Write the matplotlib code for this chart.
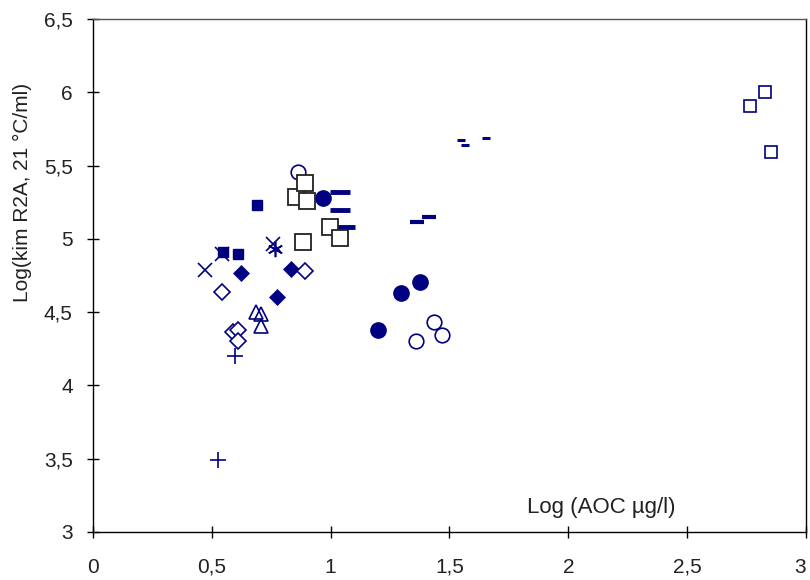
import matplotlib
matplotlib.use('Agg')
import matplotlib.pyplot as plt

NAVY = '#000080'

# Data (x = log AOC, y = log colony count)
big_sq_x = [0.854, 0.892, 0.900, 0.883, 0.997, 1.039]
big_sq_y = [5.283, 5.379, 5.256, 4.975, 5.078, 5.003]

small_sq_x = [2.827, 2.765, 2.851]
small_sq_y = [6.003, 5.907, 5.593]

fill_sq_x = [0.691, 0.548, 0.609]
fill_sq_y = [5.233, 4.909, 4.898]

cross_x = [0.471, 0.541, 0.756]
cross_y = [4.786, 4.898, 4.962]

star_x = [0.766]
star_y = [4.928]

fill_dia_x = [0.621, 0.833, 0.776]
fill_dia_y = [4.764, 4.791, 4.604]

open_dia_x = [0.892, 0.544, 0.588, 0.611, 0.611]
open_dia_y = [4.779, 4.636, 4.362, 4.381, 4.301]

tri_x = [0.686, 0.707, 0.707]
tri_y = [4.502, 4.490, 4.408]

plus_x = [0.597, 0.527]
plus_y = [4.198, 3.492]

fill_circ_x = [0.969, 1.376, 1.296, 1.198]
fill_circ_y = [5.276, 4.707, 4.632, 4.381]

open_circ_x = [0.863, 1.435, 1.470, 1.358]
open_circ_y = [5.456, 4.431, 4.342, 4.301]

dash_a_x = [1.040, 1.040, 1.060]
dash_a_y = [5.320, 5.200, 5.080]
dash_b_x = [1.362, 1.414]
dash_b_y = [5.114, 5.146]
dash_c_x = [1.548, 1.565, 1.654]
dash_c_y = [5.672, 5.640, 5.690]

xticks = [0, 0.5, 1, 1.5, 2, 2.5, 3]
yticks = [3, 3.5, 4, 4.5, 5, 5.5, 6, 6.5]

plt.rcParams['font.family'] = ['Liberation Sans', 'DejaVu Sans']

fig = plt.figure(figsize=(8.1, 5.8), dpi=100)
ax = fig.add_axes([0.1148, 0.0828, 0.8802, 0.8845])

ax.plot(fill_dia_x, fill_dia_y, 'D', color=NAVY, ms=8, mew=0.5, zorder=3)
ax.plot(open_dia_x, open_dia_y, 'D', mfc='white', mec=NAVY, ms=8, mew=1.2, zorder=3)
ax.plot(tri_x, tri_y, '^', mfc='none', mec=NAVY, ms=10, mew=1.2, zorder=3)
ax.plot(plus_x, plus_y, '+', color=NAVY, ms=12, mew=1.2, zorder=3)
ax.plot(cross_x, cross_y, 'x', color=NAVY, ms=10, mew=1.2, zorder=3)
ax.plot(star_x, star_y, marker=(6, 2, 0), ls='none', color=NAVY, ms=11, mew=1.2, zorder=3)
ax.plot(fill_sq_x, fill_sq_y, 's', color=NAVY, ms=7.5, zorder=4)
ax.plot(fill_circ_x, fill_circ_y, 'o', color=NAVY, ms=11, zorder=3)
ax.plot(open_circ_x, open_circ_y, 'o', mfc='white', mec=NAVY, ms=10.5, mew=1.2, zorder=3)
ax.plot(dash_a_x, dash_a_y, '_', color=NAVY, ms=14, mew=3.5, zorder=3)
ax.plot(dash_b_x, dash_b_y, '_', color=NAVY, ms=9.5, mew=3, zorder=3)
ax.plot(dash_c_x, dash_c_y, '_', color=NAVY, ms=6, mew=2.2, zorder=3)
ax.plot(big_sq_x, big_sq_y, 's', mfc='white', mec='#222222', ms=12, mew=1.3, zorder=5)
ax.plot(small_sq_x, small_sq_y, 's', mfc='white', mec=NAVY, ms=8, mew=1.2, zorder=3)

ax.set_xlim(0, 3)
ax.set_ylim(3, 6.5)
ax.set_xticks(xticks)
ax.set_yticks(yticks)
ax.set_xticklabels([f'{t:g}'.replace('.', ',') for t in xticks], fontsize=15, color='#222222')
ax.set_yticklabels([f'{t:g}'.replace('.', ',') for t in yticks], fontsize=15, color='#222222')
ax.get_xticklabels()[-1].set_ha('right')  # keep the last label inside the figure
ax.tick_params(direction='inout', length=9, width=1, pad=10)
ax.tick_params(axis='x', pad=14)

for s in ax.spines.values():
    s.set_linewidth(1)
ax.spines['top'].set_color('#555555')

ax.set_ylabel('Log(kim R2A, 21 °C/ml)', fontsize=15, color='#222222')
ax.yaxis.set_label_coords(-0.086, 0.661)
ax.text(0.609, 0.047, 'Log (AOC µg/l)', transform=ax.transAxes, fontsize=16,
        va='center', color='#222222')

fig.savefig('out.png', dpi=100)
